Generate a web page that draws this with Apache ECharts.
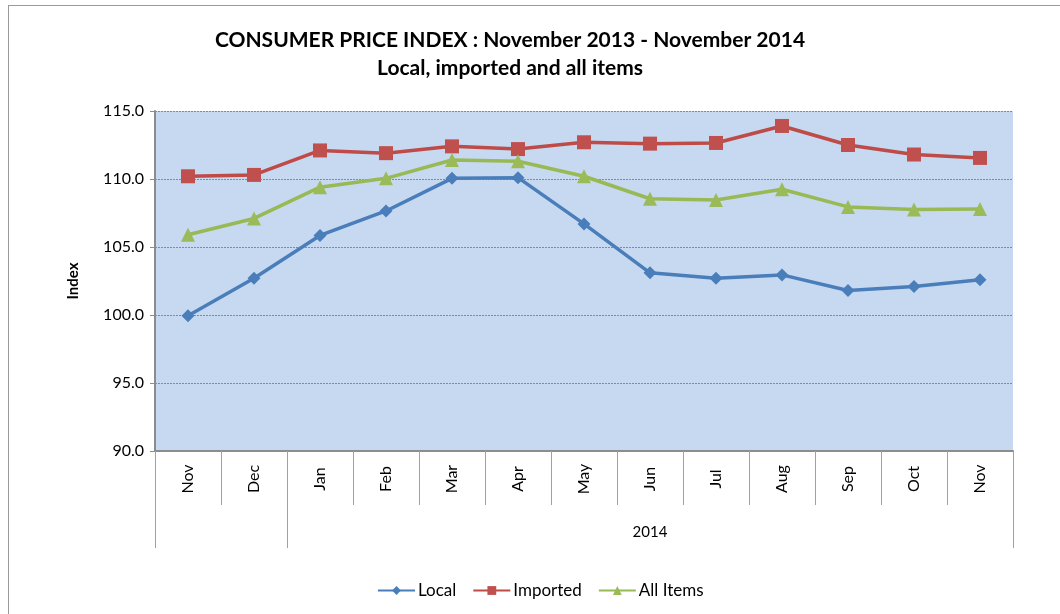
<!DOCTYPE html>
<html>
<head>
<meta charset="utf-8">
<script src="https://cdn.jsdelivr.net/npm/echarts@6/dist/echarts.min.js"></script>
<style>
  html, body { margin: 0; padding: 0; background: #fff; }
  #frame { position: absolute; left: 8px; top: 5px; width: 1100px; height: 700px; border-left: 1px solid #9a9a9a; border-top: 1px solid #9a9a9a; }
  #chart { position: absolute; left: 0; top: 0; width: 1060px; height: 614px; }
</style>
</head>
<body>
<div id="frame"></div>
<div id="chart"></div>
<script>
const months = ['Nov', 'Dec', 'Jan', 'Feb', 'Mar', 'Apr', 'May', 'Jun', 'Jul', 'Aug', 'Sep', 'Oct', 'Nov'];
const yearLabels = ['', '', '', '', '', '', '', '2014', '', '', '', '', ''];
const yearGroupStarts = [0, 2];
const local = [99.95, 102.7, 105.85, 107.65, 110.05, 110.1, 106.7, 103.1, 102.7, 102.95, 101.8, 102.1, 102.6];
const imported = [110.2, 110.3, 112.1, 111.9, 112.4, 112.2, 112.7, 112.6, 112.65, 113.9, 112.5, 111.8, 111.55];
const allItems = [105.9, 107.1, 109.4, 110.05, 111.4, 111.3, 110.2, 108.55, 108.45, 109.25, 107.95, 107.75, 107.8];
const yTicks = { min: 90, max: 115, interval: 5 };

const FONT = 'Lato, "Open Sans", sans-serif';
const chart = echarts.init(document.getElementById('chart'), null, { renderer: 'canvas' });
chart.setOption({
  animation: false,
  textStyle: { fontFamily: FONT },
  title: {
    text: 'CONSUMER PRICE INDEX : November 2013 - November 2014\nLocal, imported and all items',
    left: 505, top: 21, textAlign: 'center',
    textStyle: { fontFamily: FONT, fontSize: 21, fontWeight: 'bold', color: '#000', lineHeight: 28 }
  },
  legend: {
    bottom: 10, left: 372,
    itemWidth: 37, itemHeight: 11, itemGap: 16,
    textStyle: { fontFamily: FONT, fontSize: 17, color: '#000', padding: [0, 0, 0, -2] },
    data: ['Local', 'Imported', 'All Items']
  },
  grid: { left: 155, right: 47, top: 111, bottom: 163, show: true, backgroundColor: '#C6D9F0', borderWidth: 0, containLabel: false },
  xAxis: [
    {
      type: 'category', data: months, boundaryGap: true, position: 'bottom',
      axisLine: { show: true, lineStyle: { color: '#8c8c8c', width: 2 } },
      axisTick: { show: true, length: 54, interval: 0, lineStyle: { color: '#a0a0a0', width: 1 } },
      axisLabel: { rotate: 90, align: 'center', verticalAlign: 'middle', margin: 28, interval: 0,
        fontFamily: FONT, fontSize: 16, color: '#000' },
      splitLine: { show: false }
    },
    {
      type: 'category', data: yearLabels, boundaryGap: true, position: 'bottom', offset: 0,
      axisLine: { show: false },
      axisTick: { show: true, length: 97, interval: function (i) { return yearGroupStarts.indexOf(i) >= 0; },
        lineStyle: { color: '#a0a0a0', width: 1 } },
      axisLabel: { interval: 0, margin: 74, fontFamily: FONT, fontSize: 15, color: '#000' },
      splitLine: { show: false }
    }
  ],
  yAxis: {
    type: 'value', min: yTicks.min, max: yTicks.max, interval: yTicks.interval,
    name: 'Index', nameLocation: 'middle', nameGap: 74, nameRotate: 90,
    nameTextStyle: { fontFamily: FONT, fontSize: 15, fontWeight: 'bold', color: '#000' },
    axisLine: { show: true, lineStyle: { color: '#8c8c8c', width: 2 } },
    axisTick: { show: true, length: 5, lineStyle: { color: '#8c8c8c' } },
    axisLabel: { formatter: v => v.toFixed(1), margin: 11, fontFamily: FONT, fontSize: 16, color: '#000' },
    splitLine: { show: true, lineStyle: { color: '#8a8a8a', type: [2, 1], width: 1 } }
  },
  series: [
    { name: 'Local', type: 'line', data: local, xAxisIndex: 0, symbol: 'diamond', symbolSize: 13,
      lineStyle: { color: '#4A7EBB', width: 3.5 }, itemStyle: { color: '#4A7EBB' } },
    { name: 'Imported', type: 'line', data: imported, xAxisIndex: 0, symbol: 'rect', symbolSize: 14,
      lineStyle: { color: '#BE4B48', width: 3.5 }, itemStyle: { color: '#C0504D' } },
    { name: 'All Items', type: 'line', data: allItems, xAxisIndex: 0, symbol: 'triangle', symbolSize: 14,
      lineStyle: { color: '#98B954', width: 3.5 }, itemStyle: { color: '#9BBB59' } }
  ]
});
</script>
</body>
</html>
